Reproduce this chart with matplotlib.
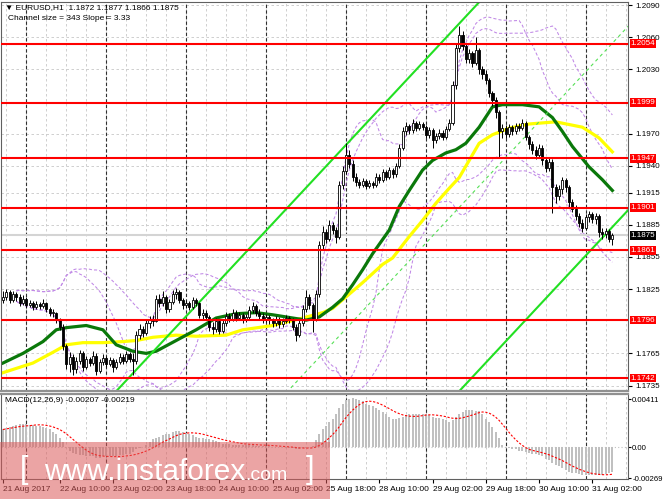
import numpy as np
import pandas as pd
import matplotlib
matplotlib.use('Agg')
import matplotlib.pyplot as plt
import matplotlib.transforms as mtrans
from matplotlib.patches import Rectangle

plt.rcParams['font.family'] = ['Liberation Sans', 'DejaVu Sans']

# --- DADOS (EURUSD H1, 21-31 Aug 2017) ---
primeira_abertura = 1.1815
fechamento = [
    1.1818, 1.1822, 1.1815, 1.1820, 1.1818, 1.1812, 1.1816, 1.1810, 1.1812, 1.1808,
    1.1811, 1.1809, 1.1812, 1.1806, 1.1803, 1.1803, 1.1796, 1.1790, 1.1772, 1.1755,
    1.1762, 1.1750, 1.1758, 1.1765, 1.1752, 1.1760, 1.1756, 1.1763, 1.1749, 1.1757,
    1.1761, 1.1755, 1.1759, 1.1752, 1.1757, 1.1762, 1.1758, 1.1764, 1.1760, 1.1758,
    1.1782, 1.1788, 1.1784, 1.1793, 1.1797, 1.1795, 1.1816, 1.1812, 1.1818, 1.1806,
    1.1813, 1.1820, 1.1822, 1.1815, 1.1810, 1.1812, 1.1808, 1.1815, 1.1812, 1.1801,
    1.1803, 1.1799, 1.1790, 1.1788, 1.1795, 1.1786, 1.1793, 1.1800, 1.1797, 1.1803,
    1.1798, 1.1801, 1.1796, 1.1799, 1.1805, 1.1809, 1.1803, 1.1800, 1.1797, 1.1799,
    1.1796, 1.1793, 1.1797, 1.1792, 1.1795, 1.1798, 1.1796, 1.1790, 1.1782, 1.1793,
    1.1806, 1.1818, 1.1810, 1.1797, 1.1820, 1.1866, 1.1878, 1.1872, 1.1885, 1.1880,
    1.1874, 1.1922, 1.1935, 1.1950, 1.1942, 1.1930, 1.1925, 1.1922, 1.1926, 1.1921,
    1.1924, 1.1922, 1.1930, 1.1927, 1.1934, 1.1930, 1.1936, 1.1932, 1.1940, 1.1957,
    1.1972, 1.1977, 1.1973, 1.1980, 1.1975, 1.1979, 1.1976, 1.1969, 1.1973, 1.1964,
    1.1968, 1.1971, 1.1967, 1.1974, 1.1980, 1.2015, 1.2050, 1.2062, 1.2052, 1.2040,
    1.2045, 1.2036, 1.2048, 1.2030, 1.2026, 1.2020, 1.2008, 1.2001, 1.1990, 1.1972,
    1.1975, 1.1970, 1.1976, 1.1972, 1.1977, 1.1975, 1.1980, 1.1967, 1.1960, 1.1955,
    1.1950, 1.1957, 1.1945, 1.1938, 1.1944, 1.1920, 1.1912, 1.1918, 1.1927, 1.1920,
    1.1906, 1.1900, 1.1893, 1.1887, 1.1882, 1.1892, 1.1895, 1.1890, 1.1893, 1.1878,
    1.1876, 1.1879, 1.1872, 1.1875]
maxima = [
    1.1823, 1.1825, 1.1824, 1.1823, 1.1822, 1.1820, 1.1819, 1.1818, 1.1815, 1.1814,
    1.1814, 1.1813, 1.1816, 1.1813, 1.1808, 1.1806, 1.1804, 1.1798, 1.1792, 1.1774,
    1.1766, 1.1764, 1.1762, 1.1768, 1.1767, 1.1763, 1.1762, 1.1767, 1.1765, 1.1760,
    1.1764, 1.1763, 1.1762, 1.1761, 1.1760, 1.1765, 1.1764, 1.1767, 1.1766, 1.1765,
    1.1786, 1.1792, 1.1791, 1.1796, 1.1800, 1.1801, 1.1819, 1.1820, 1.1823, 1.1819,
    1.1816, 1.1824, 1.1826, 1.1824, 1.1817, 1.1815, 1.1814, 1.1818, 1.1817, 1.1813,
    1.1806, 1.1805, 1.1801, 1.1794, 1.1798, 1.1797, 1.1796, 1.1804, 1.1803, 1.1806,
    1.1805, 1.1804, 1.1803, 1.1802, 1.1809, 1.1813, 1.1811, 1.1806, 1.1803, 1.1802,
    1.1801, 1.1798, 1.1800, 1.1799, 1.1798, 1.1801, 1.1800, 1.1798, 1.1792, 1.1796,
    1.1810, 1.1824, 1.1820, 1.1812, 1.1824, 1.1870, 1.1884, 1.1881, 1.1889, 1.1888,
    1.1883, 1.1926, 1.1940, 1.1961, 1.1955, 1.1945, 1.1933, 1.1928, 1.1929, 1.1928,
    1.1927, 1.1926, 1.1933, 1.1932, 1.1937, 1.1936, 1.1939, 1.1938, 1.1943, 1.1960,
    1.1976, 1.1981, 1.1979, 1.1984, 1.1982, 1.1982, 1.1981, 1.1978, 1.1976, 1.1975,
    1.1971, 1.1974, 1.1973, 1.1977, 1.1984, 1.2019, 1.2054, 1.2070, 1.2066, 1.2055,
    1.2049, 1.2047, 1.2060, 1.2050, 1.2033, 1.2029, 1.2022, 1.2010, 1.2004, 1.1992,
    1.1979, 1.1978, 1.1979, 1.1978, 1.1980, 1.1980, 1.1984, 1.1982, 1.1969, 1.1963,
    1.1958, 1.1960, 1.1959, 1.1948, 1.1947, 1.1946, 1.1923, 1.1922, 1.1930, 1.1929,
    1.1922, 1.1909, 1.1903, 1.1896, 1.1890, 1.1895, 1.1898, 1.1897, 1.1896, 1.1895,
    1.1882, 1.1882, 1.1881, 1.1877]
minimas = [
    1.1812, 1.1815, 1.1812, 1.1813, 1.1814, 1.1809, 1.1810, 1.1807, 1.1808, 1.1805,
    1.1806, 1.1806, 1.1807, 1.1804, 1.1800, 1.1799, 1.1793, 1.1787, 1.1768, 1.1750,
    1.1748, 1.1745, 1.1747, 1.1755, 1.1749, 1.1750, 1.1753, 1.1754, 1.1745, 1.1747,
    1.1754, 1.1752, 1.1753, 1.1748, 1.1750, 1.1755, 1.1755, 1.1756, 1.1757, 1.1745,
    1.1755, 1.1778, 1.1780, 1.1782, 1.1789, 1.1791, 1.1794, 1.1808, 1.1809, 1.1803,
    1.1804, 1.1811, 1.1816, 1.1812, 1.1806, 1.1807, 1.1805, 1.1806, 1.1809, 1.1798,
    1.1797, 1.1796, 1.1786, 1.1783, 1.1785, 1.1783, 1.1784, 1.1791, 1.1794, 1.1795,
    1.1795, 1.1796, 1.1793, 1.1794, 1.1797, 1.1803, 1.1800, 1.1797, 1.1793, 1.1794,
    1.1792, 1.1790, 1.1791, 1.1789, 1.1790, 1.1793, 1.1793, 1.1787, 1.1777, 1.1780,
    1.1791, 1.1804, 1.1806, 1.1785, 1.1795, 1.1818, 1.1862, 1.1868, 1.1870, 1.1876,
    1.1868, 1.1872, 1.1918, 1.1932, 1.1938, 1.1926, 1.1921, 1.1919, 1.1920, 1.1918,
    1.1919, 1.1919, 1.1920, 1.1924, 1.1925, 1.1927, 1.1928, 1.1929, 1.1930, 1.1938,
    1.1955, 1.1969, 1.1970, 1.1971, 1.1972, 1.1973, 1.1973, 1.1966, 1.1966, 1.1957,
    1.1961, 1.1965, 1.1964, 1.1965, 1.1972, 1.1978, 1.2012, 1.2046, 1.2048, 1.2036,
    1.2036, 1.2032, 1.2034, 1.2026, 1.2021, 1.2016, 1.2004, 1.1996, 1.1985, 1.1948,
    1.1966, 1.1966, 1.1967, 1.1969, 1.1970, 1.1972, 1.1973, 1.1964, 1.1956, 1.1951,
    1.1946, 1.1947, 1.1941, 1.1934, 1.1935, 1.1896, 1.1905, 1.1908, 1.1914, 1.1916,
    1.1902, 1.1897, 1.1889, 1.1883, 1.1878, 1.1880, 1.1888, 1.1887, 1.1886, 1.1874,
    1.1872, 1.1873, 1.1869, 1.1866]

# MACD principal (histograma)
macd = [
    0.0015, 0.0016, 0.0017, 0.0018, 0.0019, 0.0020, 0.0020, 0.0020, 0.0019, 0.0019,
    0.0018, 0.0018, 0.0017, 0.0016, 0.0015, 0.0013, 0.0011, 0.0008, 0.0004, 0.0000,
    -0.0003, -0.0005, -0.0006, -0.0007, -0.0007, -0.0008, -0.0008, -0.0008, -0.0009, -0.0009,
    -0.0008, -0.0008, -0.0008, -0.0008, -0.0008, -0.0007, -0.0007, -0.0006, -0.0006, -0.0004,
    -0.0002, -0.0001, 0.0000, 0.0002, 0.0004, 0.0007, 0.0008, 0.0009, 0.0010, 0.0011,
    0.0011, 0.0013, 0.0014, 0.0014, 0.0013, 0.0012, 0.0011, 0.0010, 0.0009, 0.0008,
    0.0008, 0.0007, 0.0007, 0.0006, 0.0005, 0.0004, 0.0003, 0.0003, 0.0003, 0.0002,
    0.0002, 0.0002, 0.0002, 0.0002, 0.0002, 0.0002, 0.0001, 0.0001, 0.0001, 0.0001,
    0.0001, 0.0000, 0.0000, 0.0000, 0.0000, -0.0001, -0.0001, -0.0001, -0.0002, -0.0002,
    -0.0001, 0.0000, 0.0000, 0.0001, 0.0006, 0.0011, 0.0015, 0.0018, 0.0021, 0.0024,
    0.0028, 0.0033, 0.0037, 0.0040, 0.0041, 0.0042, 0.0041, 0.0040, 0.0039, 0.0037,
    0.0036, 0.0035, 0.0033, 0.0032, 0.0030, 0.0028, 0.0026, 0.0024, 0.0024, 0.0025,
    0.0026, 0.0027, 0.0028, 0.0028, 0.0028, 0.0028, 0.0028, 0.0028, 0.0027, 0.0026,
    0.0025, 0.0025, 0.0024, 0.0023, 0.0021, 0.0023, 0.0026, 0.0028, 0.0030, 0.0032,
    0.0032, 0.0032, 0.0031, 0.0031, 0.0028, 0.0024, 0.0021, 0.0017, 0.0013, 0.0008,
    0.0002, 0.0000, -0.0001, -0.0002, -0.0002, -0.0003, -0.0003, -0.0004, -0.0005, -0.0006,
    -0.0006, -0.0007, -0.0008, -0.0010, -0.0011, -0.0014, -0.0015, -0.0016, -0.0018, -0.0020,
    -0.0021, -0.0022, -0.0022, -0.0023, -0.0024, -0.0024, -0.0024, -0.0024, -0.0024, -0.0024,
    -0.0024, -0.0023, -0.0022, -0.0021]

# medias moveis (indice da barra, preco)
mm_verde_idx = [0, 6, 12, 16, 19, 25, 30, 34, 39, 43, 46, 52, 58, 64, 70, 76, 81, 87, 91,
                95, 99, 102, 105, 108, 111, 116, 119, 122, 126, 129, 133, 136, 139, 143,
                147, 150, 156, 161, 165, 168, 171, 176, 180, 183]
mm_verde = [1.1756, 1.1765, 1.1776, 1.1787, 1.1789, 1.1791, 1.1787, 1.1773, 1.1767, 1.1765,
            1.1767, 1.1777, 1.1787, 1.1798, 1.1802, 1.1803, 1.1801, 1.1798, 1.1796, 1.1799,
            1.1808, 1.1816, 1.1829, 1.1843, 1.1858, 1.1880, 1.1902, 1.1917, 1.1936, 1.1945,
            1.1952, 1.1955, 1.1961, 1.1976, 1.1995, 1.1997, 1.1997, 1.1995, 1.1985, 1.1972,
            1.1958, 1.1939, 1.1927, 1.1917]
mm_amarela_idx = [0, 9, 15, 19, 24, 30, 36, 40, 45, 52, 58, 67, 72, 81, 90, 96, 99, 102,
                  108, 114, 117, 122, 126, 130, 134, 137, 140, 143, 147, 152, 158, 166,
                  174, 179, 183]
mm_amarela = [1.1747, 1.1756, 1.1766, 1.1773, 1.1775, 1.1775, 1.1776, 1.1777, 1.1780, 1.1782,
              1.1781, 1.1782, 1.1787, 1.1791, 1.1798, 1.1803, 1.1807, 1.1815, 1.1831, 1.1848,
              1.1854, 1.1874, 1.1889, 1.1905, 1.1919, 1.1929, 1.1945, 1.1961, 1.1969, 1.1975,
              1.1979, 1.1981, 1.1976, 1.1966, 1.1953]

# canal de regressao
canal_barra0 = 88
canal_meio0 = 1.1738
canal_incl = 0.000333
canal_meia_larg = 0.01715

niveis = [1.2054, 1.1999, 1.1947, 1.1901, 1.1861, 1.1796, 1.1742]
preco_atual = 1.1875
ticks_preco = [1.2090, 1.2060, 1.2030, 1.1970, 1.1940, 1.1915, 1.1885, 1.1855, 1.1825,
               1.1765, 1.1735]
inicio_dias = [7, 31, 55, 79, 103, 127, 151, 175]
ticks_tempo = [0, 17, 33, 49, 65, 81, 97, 113, 129, 145, 161, 177]
rotulos_tempo = ['21 Aug 2017', '22 Aug 10:00', '23 Aug 02:00', '23 Aug 18:00',
                 '24 Aug 10:00', '25 Aug 02:00', '25 Aug 18:00', '28 Aug 10:00',
                 '29 Aug 02:00', '29 Aug 18:00', '30 Aug 10:00', '31 Aug 02:00']
# -----------------------------------------

n = len(fechamento)
idx = np.arange(n)
c = np.array(fechamento)
o = np.array([primeira_abertura] + fechamento[:-1])
h = np.array(maxima)
l = np.array(minimas)

fig = plt.figure(figsize=(6.65, 4.99), dpi=100)
ax = fig.add_axes([1/665, 108/499, 627/665, 389/499])
ax2 = fig.add_axes([1/665, 20/499, 627/665, 85/499])
xlim = (-0.6, 187.7)

for a in (ax, ax2):
    a.set_xlim(*xlim)
    for g in range(1, 188, 6):
        a.axvline(g, color='#c8c8c8', ls=(0, (3, 3)), lw=0.6, zorder=0)
    for d in inicio_dias:
        a.axvline(d, color='#303030', ls=(0, (3, 2)), lw=0.8, zorder=1)

ax.set_ylim(1.17299, 1.20928)
for t in ticks_preco:
    ax.axhline(t, color='#c8c8c8', ls=(0, (3, 3)), lw=0.6, zorder=0)

# bandas de Bollinger calculadas dos fechamentos
serie = pd.Series(c)
for per in (20, 30):
    meio = serie.rolling(per, min_periods=5).mean()
    dp = serie.rolling(per, min_periods=5).std(ddof=0)
    ax.plot(idx, meio + 2 * dp, color='#c088e6', ls=(0, (3, 2)), lw=0.75, zorder=1)
    ax.plot(idx, meio - 2 * dp, color='#c088e6', ls=(0, (3, 2)), lw=0.75, zorder=1)

# linha do preco atual
ax.axhline(preco_atual, color='#d4d4d4', lw=1.5, zorder=1)

# medias moveis
ax.plot(mm_amarela_idx, mm_amarela, color='#ffff00', lw=2.3, zorder=2,
        solid_joinstyle='round')
ax.plot(mm_verde_idx, mm_verde, color='#0a780a', lw=2.3, zorder=2,
        solid_joinstyle='round')

# canal de regressao
xc = np.array([0, 188])
meio_c = canal_meio0 + canal_incl * (xc - canal_barra0)
ax.plot(xc, meio_c + canal_meia_larg, color='#22e022', lw=1.5, zorder=2)
ax.plot(xc, meio_c - canal_meia_larg, color='#22e022', lw=1.5, zorder=2)
ax.plot(xc, meio_c, color='#55e055', lw=0.8, ls=(0, (3, 3)), zorder=2)

# candles
ax.vlines(idx, l, h, color='black', lw=0.7, zorder=3)
alta = c >= o
corpo = np.maximum(np.abs(c - o), 0.00003)
ax.bar(idx, corpo, bottom=np.minimum(o, c), width=0.62,
       color=np.where(alta, 'white', 'black'), edgecolor='black', linewidth=0.6, zorder=4)

# niveis horizontais
trans = mtrans.blended_transform_factory(ax.transAxes, ax.transData)
for nv in niveis:
    ax.axhline(nv, color='#ff0000', lw=1.5, zorder=5)
    ax.text(1.004, nv, f'{nv:.4f}', transform=trans, color='white', fontsize=5.8,
            va='center', ha='left', zorder=6,
            bbox=dict(boxstyle='square,pad=0.1', fc='#ff0000', ec='none'))
ax.text(1.004, preco_atual, f'{preco_atual:.4f}', transform=trans, color='white',
        fontsize=5.8, va='center', ha='left', zorder=6,
        bbox=dict(boxstyle='square,pad=0.1', fc='black', ec='none'))

ax.yaxis.tick_right()
ax.set_yticks(ticks_preco)
ax.set_yticklabels([f'{t:.4f}' for t in ticks_preco])
ax.tick_params(axis='y', labelsize=5.8, length=3, pad=2)
ax.set_xticks([])

# painel MACD
sinal = pd.Series(macd).rolling(9, min_periods=1).mean()
ax2.set_ylim(-0.00274, 0.00454)
ax2.axhline(0, color='#c0c0c0', ls=(0, (1, 2)), lw=0.8, zorder=0)
ax2.bar(idx, macd, width=0.6, color='#c0c0c0', zorder=2)
ax2.plot(idx, sinal, color='#ff0000', ls=(0, (2, 1.5)), lw=0.8, zorder=3)
ax2.yaxis.tick_right()
ax2.set_yticks([0.00411, 0.0, -0.00269])
ax2.set_yticklabels(['0.00411', '0.00', '-0.00269'])
ax2.tick_params(axis='y', labelsize=5.6, length=2, pad=1)
ax2.set_xticks(ticks_tempo)
ax2.set_xticklabels(rotulos_tempo, ha='left')
ax2.tick_params(axis='x', labelsize=6, length=3, pad=2)

for a in (ax, ax2):
    for s in a.spines.values():
        s.set_color('#606060')
        s.set_linewidth(0.8)
ax.spines['bottom'].set_linewidth(1.6)
ax2.spines['top'].set_linewidth(1.6)
ax.spines['bottom'].set_color('#909090')
ax2.spines['top'].set_color('#909090')

# textos
fig.text(5/665, 1 - 8/499, '\u25bc EURUSD,H1  1.1872 1.1877 1.1866 1.1875', fontsize=6, va='center')
fig.text(8/665, 1 - 19/499, 'Channel size = 343 Slope = 3.33', fontsize=6, va='center')
fig.text(5/665, 1 - 400/499, 'MACD(12,26,9) -0.00207 -0.00219', fontsize=6, va='center')

# marca d'agua
fig.patches.append(Rectangle((0, 0), 330/665, 57/499, transform=fig.transFigure,
                             facecolor='#dc5a5a', alpha=0.55, edgecolor='none', zorder=10))
fam = ['Liberation Sans Narrow', 'Liberation Sans', 'DejaVu Sans']
fig.text(20/665, 1 - 470/499, '[', color='white', fontsize=22, family=fam,
         va='center', zorder=11)
t_www = fig.text(44/665, 1 - 480/499, 'www.instaforex', color='white', fontsize=21.5,
                 family=fam, va='baseline', zorder=11)
fig.canvas.draw()
bb = t_www.get_window_extent(renderer=fig.canvas.get_renderer())
x_com = bb.x1 / fig.bbox.width
fig.text(x_com, 1 - 480/499, '.com', color='white', fontsize=14, family=fam,
         va='baseline', zorder=11)
fig.text(306/665, 1 - 470/499, ']', color='white', fontsize=22, family=fam,
         va='center', zorder=11)

plt.savefig('out.png', dpi=100)
